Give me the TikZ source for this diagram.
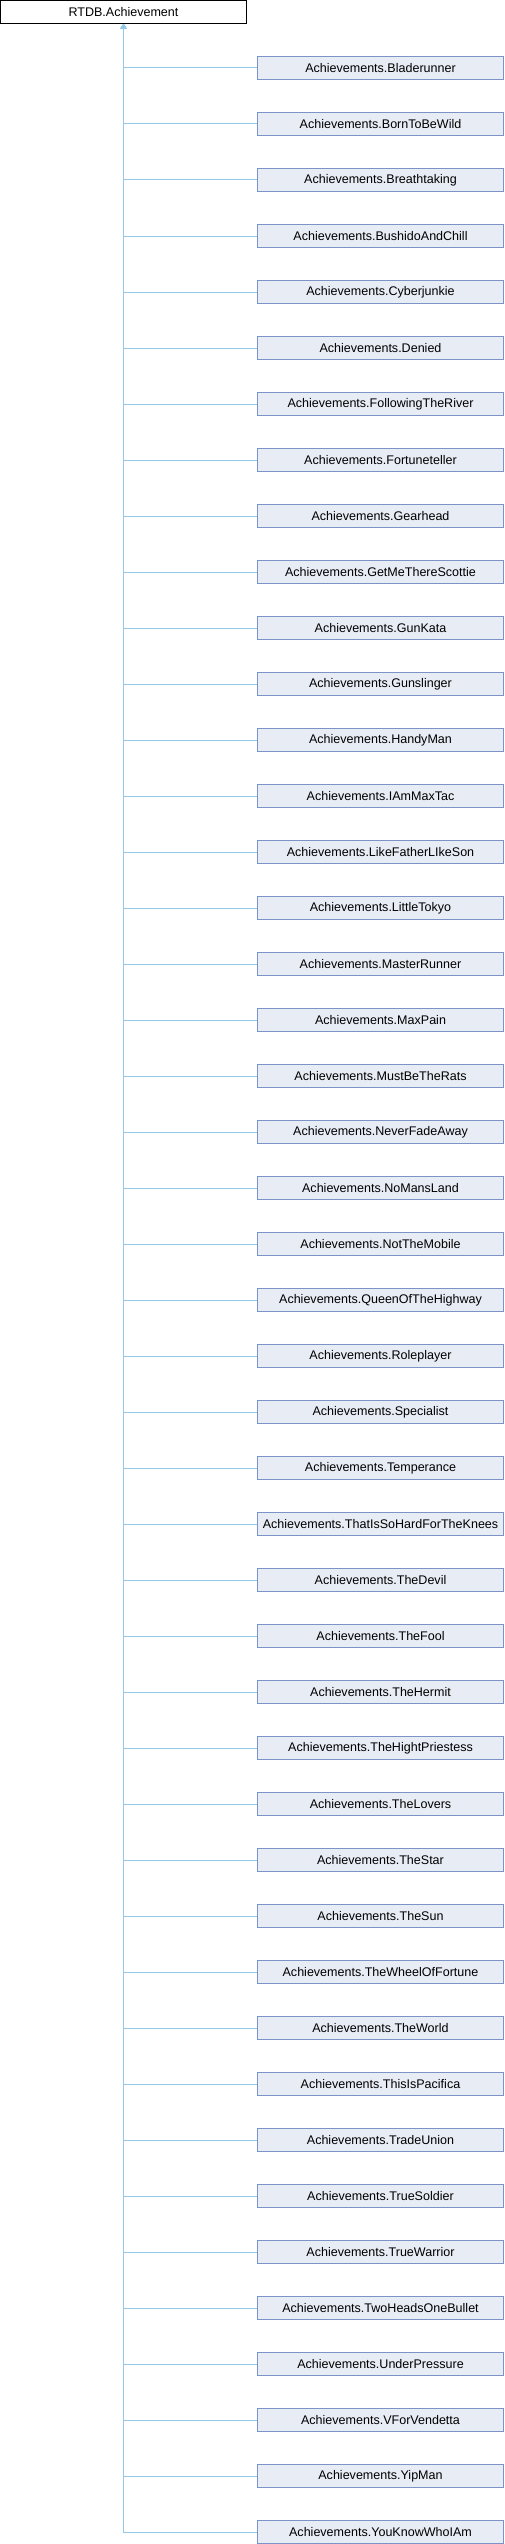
\documentclass[tikz,border=0pt]{standalone}
\usepackage{fontspec}
\setmainfont{Liberation Sans}
\usetikzlibrary{arrows.meta}
\definecolor{edgeblue}{HTML}{94C8E8}
\definecolor{boxfill}{HTML}{E8ECF5}
\definecolor{boxline}{HTML}{7A94CA}

\begin{document}
\begin{tikzpicture}[x=0.75pt,y=-0.75pt,
  base/.style={draw=black, fill=white, line width=0.75pt, minimum width=184.5pt,
    minimum height=17.25pt, inner sep=0pt, font=\fontsize{9.4}{11}\selectfont},
  derived/.style={base, draw=boxline, fill=boxfill},
  inherit/.style={draw=edgeblue, line width=0.75pt,
    -{Triangle[length=3.75pt,width=4.5pt,fill=edgeblue]}}]
\useasboundingbox (0,0) rectangle (504,2544);

\node [base] (root) at (123.5,12) {RTDB.Achievement};

\foreach \name [count=\i from 0] in {Bladerunner, BornToBeWild, Breathtaking,
  BushidoAndChill, Cyberjunkie, Denied, FollowingTheRiver, Fortuneteller,
  Gearhead, GetMeThereScottie, GunKata, Gunslinger, HandyMan, IAmMaxTac,
  LikeFatherLIkeSon, LittleTokyo, MasterRunner, MaxPain, MustBeTheRats,
  NeverFadeAway, NoMansLand, NotTheMobile, QueenOfTheHighway, Roleplayer,
  Specialist, Temperance, ThatIsSoHardForTheKnees, TheDevil, TheFool,
  TheHermit, TheHightPriestess, TheLovers, TheStar, TheSun,
  TheWheelOfFortune, TheWorld, ThisIsPacifica, TradeUnion, TrueSoldier,
  TrueWarrior, TwoHeadsOneBullet, UnderPressure, VForVendetta, YipMan,
  YouKnowWhoIAm}
{
  \node [derived] (c\i) at (380.5,{68+56*\i}) {Achievements.\name};
  \draw [inherit] (c\i.west) -| (root.south);
}
\end{tikzpicture}
\end{document}
